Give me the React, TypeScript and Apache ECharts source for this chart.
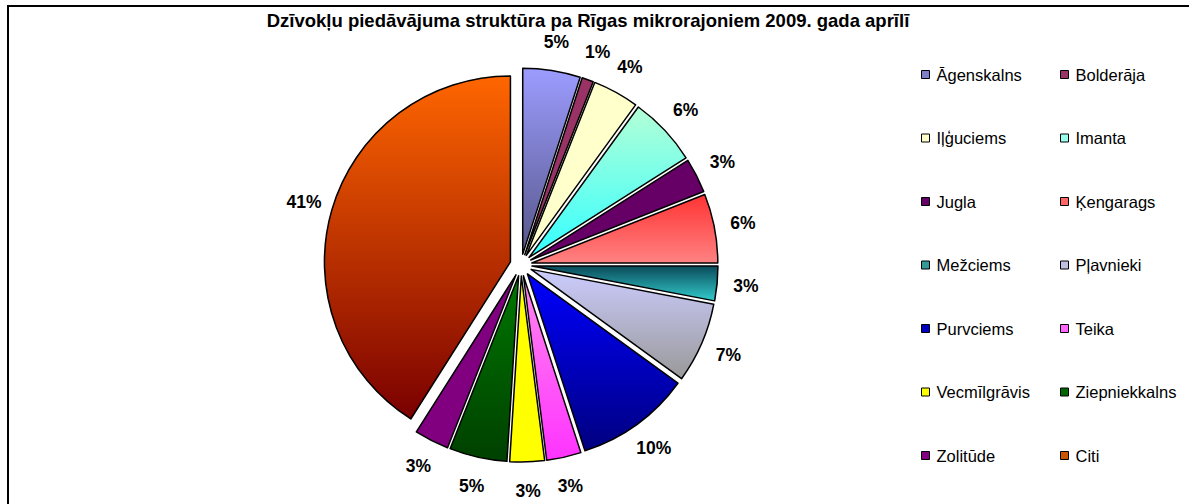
import React, { useEffect, useRef } from "react";
import * as echarts from "echarts";

const TITLE = "Dzīvokļu piedāvājuma struktūra pa Rīgas mikrorajoniem 2009. gada aprīlī";

const districts = [
  "Āgenskalns",
  "Bolderāja",
  "Iļģuciems",
  "Imanta",
  "Jugla",
  "Ķengarags",
  "Mežciems",
  "Pļavnieki",
  "Purvciems",
  "Teika",
  "Vecmīlgrāvis",
  "Ziepniekkalns",
  "Zolitūde",
  "Citi",
];

const shares = [5, 1, 4, 6, 3, 6, 3, 7, 10, 3, 3, 5, 3, 41];

// [top colour, bottom colour, legend colour]
const palette: [string, string, string][] = [
  ["#9c9cff", "#56568a", "#8080c8"],
  ["#993366", "#993366", "#993366"],
  ["#ffffcc", "#ffffcc", "#ffffcc"],
  ["#b4ffd6", "#33ffff", "#99ffee"],
  ["#660066", "#660066", "#660066"],
  ["#ff3333", "#ff8282", "#ff6666"],
  ["#0a4a5a", "#33cccc", "#339999"],
  ["#ccccff", "#999999", "#c0c0e0"],
  ["#0000ff", "#000080", "#0000c0"],
  ["#ff88ee", "#ff33ff", "#ff66ff"],
  ["#ffff00", "#ffff00", "#ffff00"],
  ["#007700", "#004000", "#006600"],
  ["#800080", "#800080", "#800080"],
  ["#ff6600", "#7a0000", "#cc5500"],
];

const FONT = "'Liberation Sans', Arial, sans-serif";

export default function App() {
  const ref = useRef<HTMLDivElement>(null);

  useEffect(() => {
    if (!ref.current) return;
    const chart = echarts.init(ref.current, undefined, { renderer: "svg" });

    const grad = (i: number) =>
      new echarts.graphic.LinearGradient(0, 0, 0, 1, [
        { offset: 0, color: palette[i][0] },
        { offset: 1, color: palette[i][1] },
      ]);

    const col1 = districts.filter((_, i) => i % 2 === 0);
    const col2 = districts.filter((_, i) => i % 2 === 1);
    const legendItem = (name: string) => {
      const i = districts.indexOf(name);
      return { name, itemStyle: { color: palette[i][2], borderColor: "#000", borderWidth: 1 } };
    };
    const legendBase = {
      orient: "vertical" as const,
      icon: "rect",
      itemWidth: 8,
      itemHeight: 8,
      itemGap: 46.5,
      selectedMode: false,
      padding: 0,
      textStyle: { fontFamily: FONT, fontSize: 16.5, color: "#000", lineHeight: 17, padding: [0, 0, 0, 2] },
    };

    chart.setOption({
      animation: false,
      backgroundColor: "#fff",
      title: {
        text: TITLE,
        left: 588,
        top: 11,
        textAlign: "center",
        padding: 0,
        textStyle: { fontFamily: FONT, fontSize: 18.5, fontWeight: "bold", color: "#000" },
      },
      legend: [
        { ...legendBase, left: 921, top: 66, data: col1.map(legendItem) },
        { ...legendBase, left: 1060, top: 66, data: col2.map(legendItem) },
      ],
      graphic: [
        {
          type: "rect",
          shape: { x: 8, y: 6, width: 1300, height: 600 },
          style: { fill: "none", stroke: "#000", lineWidth: 2 },
          silent: true,
          z: -1,
        },
      ],
      series: [
        {
          type: "pie",
          center: [521, 265],
          radius: 186,
          startAngle: 90,
          clockwise: true,
          selectedMode: "multiple",
          selectedOffset: 11,
          percentPrecision: 0,
          avoidLabelOverlap: false,
          emphasis: { disabled: true },
          select: { itemStyle: { borderColor: "#000", borderWidth: 1.5 } },
          itemStyle: { borderColor: "#000", borderWidth: 1.5 },
          label: { show: false },
          labelLine: { show: false },
          data: districts.map((name, i) => ({
            name,
            value: shares[i],
            selected: true,
            itemStyle: { color: grad(i) },
          })),
        },
        {
          type: "pie",
          center: [521, 265],
          radius: [211, 235],
          startAngle: 90,
          clockwise: true,
          silent: true,
          selectedMode: false,
          percentPrecision: 0,
          avoidLabelOverlap: false,
          emphasis: { disabled: true },
          itemStyle: { color: "rgba(0,0,0,0)", borderWidth: 0 },
          label: {
            show: true,
            position: "inside",
            formatter: "{d}%",
            fontFamily: FONT,
            fontSize: 17.5,
            fontWeight: "bold",
            color: "#000",
          },
          labelLine: { show: false },
          data: districts.map((name, i) => ({ name, value: shares[i] })),
        },
      ],
    });

    return () => chart.dispose();
  }, []);

  return (
    <div
      ref={ref}
      style={{ position: "fixed", left: 0, top: 0, width: 1189, height: 504 }}
    />
  );
}
